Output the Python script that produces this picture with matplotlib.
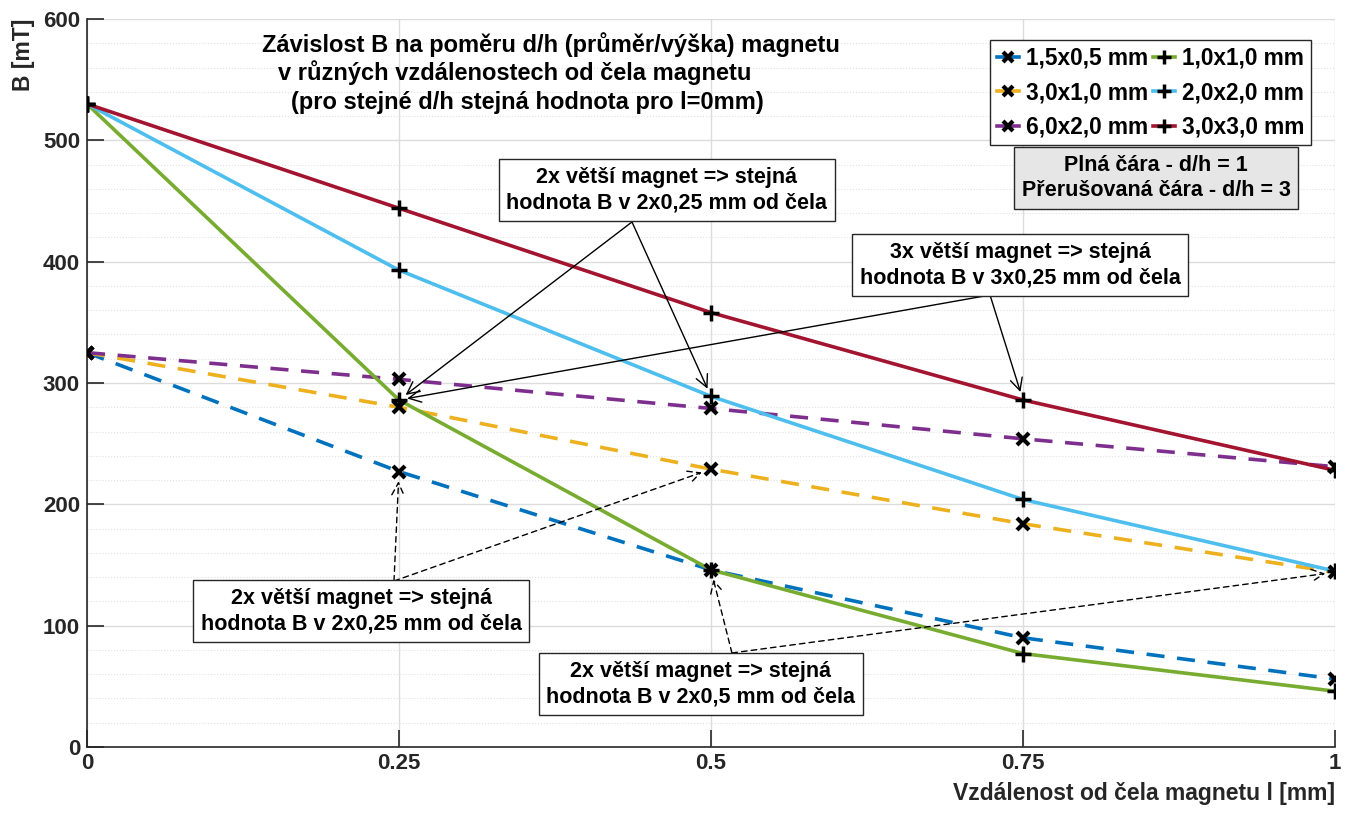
import matplotlib.pyplot as plt
from matplotlib.lines import Line2D
from matplotlib.ticker import MultipleLocator

plt.rcParams['font.family'] = ['Liberation Sans', 'DejaVu Sans']
plt.rcParams['font.weight'] = 'bold'

# distance from magnet face [mm]
dist = [0, 0.25, 0.5, 0.75, 1]

# dashed series (d/h = 3)
labels_dashed = ['1,5x0,5 mm', '3,0x1,0 mm', '6,0x2,0 mm']
b_dashed = [
    [325, 227, 146, 90, 56],
    [325, 280, 229, 184, 144],
    [325, 303, 279, 254, 231],
]
colors_dashed = ['#0072BD', '#EDB120', '#7E2F8E']

# solid series (d/h = 1)
labels_solid = ['1,0x1,0 mm', '2,0x2,0 mm', '3,0x3,0 mm']
b_solid = [
    [530, 286, 146, 77, 46],
    [530, 393, 289, 204, 145],
    [530, 444, 358, 286, 228],
]
colors_solid = ['#77AC30', '#4DBEEE', '#A2142F']

fig = plt.figure(figsize=(13.55, 8.14), dpi=100)
ax = fig.add_axes([0.0642, 0.0823, 0.921, 0.8944])

for vals, c in zip(b_dashed, colors_dashed):
    ax.plot(dist, vals, color=c, lw=2.6, ls=(0, (5, 3.5)), zorder=3)
for vals, c in zip(b_solid, colors_solid):
    ax.plot(dist, vals, color=c, lw=2.6, zorder=3)

# black markers on top
for vals in b_dashed:
    ax.plot(dist, vals, ls='none', marker='x', ms=8, mew=3, color='k', zorder=5)
for vals in b_solid:
    ax.plot(dist, vals, ls='none', marker='+', ms=11, mew=2.5, color='k', zorder=5)

ax.set_xlim(0, 1)
ax.set_ylim(0, 600)
ax.set_xticks(dist)
ax.set_xticklabels(['0', '0.25', '0.5', '0.75', '1'])
ax.yaxis.set_major_locator(MultipleLocator(100))
ax.yaxis.set_minor_locator(MultipleLocator(20))
ax.grid(True, which='major', color='#dcdcdc', lw=1)
ax.grid(True, which='minor', axis='y', color='#e2e2e2', lw=0.8, ls=':')
ax.set_axisbelow(True)
ax.tick_params(which='major', direction='in', length=12, width=1.2, labelsize=16,
               colors='#262626', pad=5)
ax.tick_params(axis='x', pad=4)
ax.tick_params(which='minor', length=0)
for lab in ax.get_xticklabels() + ax.get_yticklabels():
    lab.set_fontweight('bold')
for s in ['top', 'right']:
    ax.spines[s].set_visible(False)
for s in ['left', 'bottom']:
    ax.spines[s].set_color('#262626')
    ax.spines[s].set_linewidth(1.2)

ax.set_xlabel('Vzdálenost od čela magnetu l [mm]', fontsize=16.5, fontweight='bold',
              color='#262626', loc='right', labelpad=6)
ax.set_ylabel('B [mT]', fontsize=16.5, fontweight='bold', color='#262626', loc='top',
              labelpad=6)

# title inside the plot
ax.text(0.372, 578.5, 'Závislost B na poměru d/h (průměr/výška) magnetu',
        ha='center', va='center', fontsize=17, fontweight='bold')
ax.text(0.343, 555.5, 'v různých vzdálenostech od čela magnetu',
        ha='center', va='center', fontsize=17, fontweight='bold')
ax.text(0.3526, 531.5, '(pro stejné d/h stejná hodnota pro l=0mm)',
        ha='center', va='center', fontsize=17, fontweight='bold')

# legend
handles = []
for c in colors_dashed:
    handles.append(Line2D([], [], color=c, lw=2.6, marker='x', ms=7, mew=3, mec='k'))
for c in colors_solid:
    handles.append(Line2D([], [], color=c, lw=2.6, marker='+', ms=10, mew=2.5, mec='k'))
leg = ax.legend(handles, labels_dashed + labels_solid, ncol=2, loc='upper right',
                bbox_to_anchor=(0.981, 0.971), borderaxespad=0, fancybox=False,
                framealpha=1, edgecolor='#262626', handlelength=1.0,
                handletextpad=0.3, columnspacing=0.2, labelspacing=0.5,
                borderpad=0.3, prop={'weight': 'bold', 'size': 16.3})
leg.get_frame().set_linewidth(1.0)

ax.text(0.8566, 469, 'Plná čára - d/h = 1\nPřerušovaná čára - d/h = 3',
        ha='center', va='center', fontsize=15.5, fontweight='bold', linespacing=1.3,
        bbox=dict(boxstyle='square,pad=0.35', fc='#e6e6e6', ec='#262626', lw=1.0))

# annotation boxes
box = dict(boxstyle='square,pad=0.35', fc='white', ec='#262626', lw=1.0)
note = [
    (0.4647, 459, '2x větší magnet => stejná\nhodnota B v 2x0,25 mm od čela'),
    (0.7476, 397, '3x větší magnet => stejná\nhodnota B v 3x0,25 mm od čela'),
    (0.2196, 112, '2x větší magnet => stejná\nhodnota B v 2x0,25 mm od čela'),
    (0.4920, 52, '2x větší magnet => stejná\nhodnota B v 2x0,5 mm od čela'),
]
for x, y, t in note:
    ax.text(x, y, t, ha='center', va='center', fontsize=15.5, fontweight='bold',
            linespacing=1.3, bbox=box, zorder=6)

solid_arrow = dict(arrowstyle='->', color='k', lw=1.0, shrinkA=0, shrinkB=6,
                   mutation_scale=22)
dashed_arrow = dict(arrowstyle='->', color='k', lw=1.0, ls=(0, (4, 3)), shrinkA=0,
                    shrinkB=7, mutation_scale=22)
# green vs purple at 0.25 / light blue at 0.5
ax.annotate('', xy=(dist[1], b_solid[0][1]), xytext=(0.4367, 432.7), arrowprops=solid_arrow)
ax.annotate('', xy=(dist[2], b_solid[1][2]), xytext=(0.4367, 432.7), arrowprops=solid_arrow)
# green at 0.25 vs red at 0.75
ax.annotate('', xy=(dist[1], b_solid[0][1]), xytext=(0.7236, 372.5), arrowprops=solid_arrow)
ax.annotate('', xy=(dist[3], b_solid[2][3]), xytext=(0.7236, 372.5), arrowprops=solid_arrow)
# blue at 0.25 vs orange at 0.5
ax.annotate('', xy=(dist[1], b_dashed[0][1]), xytext=(0.246, 136.8), arrowprops=dashed_arrow)
ax.annotate('', xy=(dist[2], b_dashed[1][2]), xytext=(0.246, 136.8), arrowprops=dashed_arrow)
# blue at 0.5 vs orange at 1
ax.annotate('', xy=(dist[2], b_dashed[0][2]), xytext=(0.5168, 77.5), arrowprops=dashed_arrow)
ax.annotate('', xy=(dist[4], b_dashed[1][4]), xytext=(0.5168, 77.5), arrowprops=dashed_arrow)

fig.savefig('out.png', dpi=100)
